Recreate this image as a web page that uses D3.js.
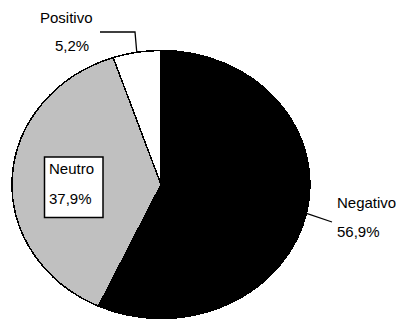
<!DOCTYPE html>
<html>
<head>
<meta charset="utf-8">
<script src="https://cdn.jsdelivr.net/npm/d3@7/dist/d3.min.js"></script>
<style>
  html, body { margin: 0; padding: 0; background: #fff; }
  svg text { font-family: Arial, "Liberation Sans", sans-serif; font-size: 15px; fill: #000; }
</style>
</head>
<body>
<svg id="chart" width="396" height="320"></svg>
<script>
// Opinion distribution (%)
const categories = ["Negativo", "Neutro", "Positivo"];
const values = [56.9, 37.9, 5.2];
const colors = ["#000000", "#c0c0c0", "#ffffff"];

const svg = d3.select("#chart");
const cx = 161, cy = 184.5, rx = 149, ry = 134;
const sx = rx / ry;

const fmt = v => d3.format(".1f")(v).replace(".", ",") + "%";

const pie = d3.pie().sort(null).value(d => d)
  .startAngle(0).endAngle(2 * Math.PI);
const arcs = pie(values);
const arc = d3.arc().innerRadius(0).outerRadius(ry);

// Pie drawn as a circle, stretched horizontally into an ellipse
const g = svg.append("g")
  .attr("transform", `translate(${cx},${cy}) scale(${sx},1)`);

g.selectAll("path.slice")
  .data(arcs)
  .join("path")
  .attr("class", "slice")
  .attr("d", arc)
  .attr("fill", (d, i) => colors[i])
  .attr("stroke", "#000")
  .attr("stroke-width", 1.5)
  .attr("stroke-linejoin", "round")
  .attr("vector-effect", "non-scaling-stroke")
  .attr("shape-rendering", "crispEdges");

// point on the ellipse edge at a slice's mid-angle
function edgePoint(d) {
  const a = (d.startAngle + d.endAngle) / 2;
  return [cx + rx * Math.sin(a), cy - ry * Math.cos(a)];
}

const line = d3.line();

// Negativo label with leader
{
  const p = edgePoint(arcs[0]);
  svg.append("path")
    .attr("d", line([p, [332, 222]]))
    .attr("fill", "none").attr("stroke", "#000").attr("stroke-width", 1.3);
  svg.append("text").attr("x", 337).attr("y", 208).text(categories[0]);
  svg.append("text").attr("x", 337).attr("y", 237).text(fmt(values[0]));
}

// Neutro label in a boxed callout
{
  svg.append("rect")
    .attr("x", 44.5).attr("y", 157).attr("width", 58.5).attr("height", 60.5)
    .attr("fill", "#fff").attr("stroke", "#000").attr("stroke-width", 1.5);
  svg.append("text").attr("x", 49).attr("y", 174).text(categories[1]);
  svg.append("text").attr("x", 49).attr("y", 204).text(fmt(values[1]));
}

// Positivo label with elbow leader
{
  const p = edgePoint(arcs[2]);
  svg.append("path")
    .attr("d", line([[100, 32], [135, 32], p]))
    .attr("fill", "none").attr("stroke", "#000").attr("stroke-width", 1.3);
  svg.append("text").attr("x", 40).attr("y", 23).text(categories[2]);
  svg.append("text").attr("x", 55).attr("y", 51).text(fmt(values[2]));
}
</script>
</body>
</html>
